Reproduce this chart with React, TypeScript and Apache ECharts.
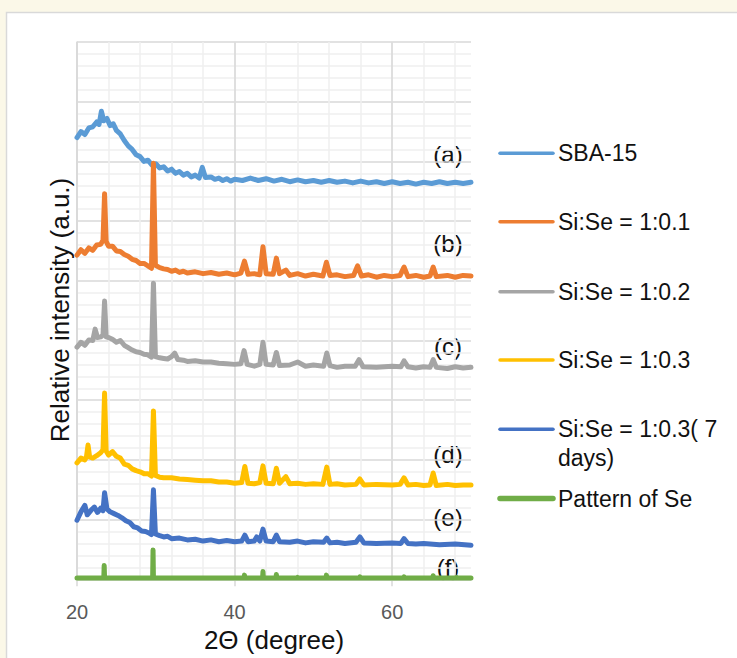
import React, { useEffect, useRef } from "react";
import * as echarts from "echarts";

// 2θ (degree) vs relative intensity (a.u.), stacked XRD patterns
const sba15: [number, number][] = [
  [20.0, 7.40], [20.5, 7.50], [21.0, 7.45], [21.5, 7.56], [22.0, 7.58], [22.5, 7.66], [22.8, 7.62],
  [23.1, 7.84], [23.4, 7.68], [23.8, 7.72], [24.2, 7.60], [24.6, 7.63], [25.0, 7.52], [25.5, 7.46],
  [26.0, 7.35], [26.5, 7.26], [27.0, 7.20], [27.5, 7.11], [28.0, 7.08], [28.5, 7.00], [29.0, 7.02],
  [29.5, 6.94], [30.0, 6.96], [30.5, 6.89], [31.0, 6.91], [31.5, 6.84], [32.0, 6.87], [32.5, 6.80],
  [33.0, 6.83], [33.5, 6.77], [34.0, 6.80], [34.5, 6.74], [35.0, 6.77], [35.5, 6.72], [35.9, 6.90],
  [36.3, 6.73], [37.0, 6.74], [37.5, 6.70], [38.0, 6.72], [38.5, 6.68], [39.0, 6.71], [39.5, 6.67],
  [40.0, 6.70], [41, 6.68], [42, 6.72], [43, 6.68], [44, 6.71], [45, 6.67], [46, 6.70], [47, 6.66],
  [48, 6.69], [49, 6.66], [50, 6.68], [51, 6.65], [52, 6.68], [53, 6.65], [54, 6.67], [55, 6.64],
  [56, 6.67], [57, 6.64], [58, 6.66], [59, 6.63], [60, 6.66], [61, 6.63], [62, 6.65], [63, 6.62],
  [64, 6.65], [65, 6.63], [66, 6.66], [67, 6.63], [68, 6.65], [69, 6.63], [70, 6.65],
];

const sise01: [number, number][] = [
  [20.0, 5.43], [20.5, 5.52], [21.0, 5.46], [21.5, 5.55], [22.0, 5.51], [22.5, 5.60], [23.0, 5.61],
  [23.3, 5.68], [23.5, 6.46], [23.7, 5.66], [24.0, 5.58], [24.5, 5.58], [25.0, 5.50], [25.5, 5.49],
  [26.0, 5.44], [26.5, 5.41], [27.0, 5.36], [27.5, 5.34], [28.0, 5.29], [28.5, 5.29], [29.0, 5.25],
  [29.45, 5.21], [29.7, 6.97], [29.95, 5.26], [30.5, 5.22], [31.0, 5.20], [31.5, 5.19], [32.0, 5.16],
  [32.5, 5.18], [33.0, 5.14], [33.5, 5.16], [34.0, 5.13], [35.0, 5.15], [36.0, 5.12], [37.0, 5.14],
  [38.0, 5.11], [39.0, 5.13], [40.0, 5.10], [40.8, 5.13], [41.25, 5.33], [41.7, 5.11], [42.5, 5.12],
  [43.2, 5.10], [43.6, 5.57], [44.0, 5.12], [44.9, 5.11], [45.3, 5.38], [45.7, 5.12], [46.5, 5.18],
  [47.0, 5.09], [48.0, 5.12], [49.0, 5.08], [50.0, 5.11], [51.2, 5.08], [51.65, 5.31], [52.1, 5.09],
  [53.0, 5.10], [54.0, 5.07], [55.1, 5.09], [55.6, 5.25], [56.1, 5.08], [57.0, 5.10], [58.0, 5.06],
  [59.0, 5.09], [60.0, 5.07], [61.0, 5.09], [61.5, 5.23], [62.0, 5.07], [63.0, 5.09], [64.0, 5.06],
  [64.8, 5.08], [65.2, 5.23], [65.6, 5.07], [67.0, 5.09], [68.0, 5.06], [69.0, 5.09], [70.0, 5.08],
];

const sise02: [number, number][] = [
  [20.0, 3.89], [20.5, 3.97], [21.0, 3.92], [21.5, 4.01], [22.0, 4.00], [22.3, 4.19], [22.6, 4.05],
  [23.0, 4.06], [23.3, 4.09], [23.5, 4.66], [23.7, 4.06], [24.0, 4.05], [24.5, 4.02], [25.0, 3.97],
  [25.5, 4.00], [26.0, 3.92], [26.5, 3.88], [27.0, 3.84], [27.5, 3.81], [28.0, 3.80], [28.5, 3.77],
  [29.0, 3.76], [29.45, 3.72], [29.7, 4.96], [29.95, 3.73], [30.5, 3.71], [31.0, 3.70], [31.5, 3.69],
  [32.0, 3.73], [32.4, 3.79], [32.8, 3.68], [33.5, 3.67], [34.0, 3.65], [35.0, 3.66], [36.0, 3.64],
  [37.0, 3.64], [38.0, 3.62], [39.0, 3.61], [40.0, 3.60], [40.8, 3.61], [41.2, 3.83], [41.6, 3.60],
  [42.5, 3.57], [43.2, 3.60], [43.6, 3.97], [44.0, 3.60], [44.9, 3.59], [45.3, 3.80], [45.7, 3.58],
  [47.0, 3.59], [48.0, 3.64], [49.0, 3.57], [50.0, 3.59], [51.3, 3.57], [51.7, 3.79], [52.1, 3.58],
  [53.0, 3.55], [54.0, 3.57], [55.3, 3.57], [55.8, 3.68], [56.3, 3.56], [58.0, 3.55], [60.0, 3.57],
  [61.1, 3.56], [61.5, 3.66], [62.0, 3.56], [63.0, 3.54], [64.0, 3.56], [64.8, 3.55], [65.2, 3.68],
  [65.6, 3.55], [67.0, 3.53], [68.0, 3.56], [69.0, 3.54], [70.0, 3.55],
];

const sise03: [number, number][] = [
  [20.0, 1.95], [20.5, 2.03], [21.0, 2.00], [21.2, 2.05], [21.4, 2.25], [21.6, 2.05], [22.0, 2.03],
  [22.5, 2.07], [23.0, 2.12], [23.3, 2.17], [23.5, 3.12], [23.7, 2.15], [24.0, 2.08], [24.5, 2.14],
  [25.0, 2.06], [25.5, 2.03], [26.0, 1.93], [26.5, 1.91], [27.0, 1.85], [27.5, 1.82], [28.0, 1.80],
  [28.5, 1.77], [29.0, 1.77], [29.45, 1.73], [29.7, 2.82], [29.95, 1.74], [30.5, 1.71], [31.0, 1.70],
  [32.0, 1.70], [33.0, 1.68], [34.0, 1.67], [35.0, 1.66], [36.0, 1.65], [37.0, 1.65], [38.0, 1.63],
  [39.0, 1.63], [40.0, 1.61], [40.9, 1.62], [41.3, 1.89], [41.7, 1.61], [42.5, 1.60], [43.2, 1.62],
  [43.6, 1.90], [44.0, 1.61], [44.9, 1.60], [45.3, 1.86], [45.7, 1.61], [46.5, 1.72], [47.0, 1.60],
  [48.0, 1.61], [49.0, 1.59], [50.0, 1.60], [51.2, 1.59], [51.7, 1.88], [52.1, 1.59], [53.0, 1.60],
  [54.0, 1.58], [55.4, 1.59], [55.9, 1.68], [56.4, 1.58], [58.0, 1.59], [60.0, 1.58], [61.0, 1.59],
  [61.5, 1.70], [62.0, 1.58], [63.0, 1.59], [64.0, 1.57], [64.8, 1.58], [65.2, 1.78], [65.6, 1.57],
  [67.0, 1.59], [68.0, 1.57], [69.0, 1.58], [70.0, 1.58],
];

const sise03d7: [number, number][] = [
  [20.0, 0.99], [20.5, 1.13], [21.0, 1.24], [21.3, 1.08], [21.8, 1.16], [22.2, 1.21], [22.6, 1.12],
  [23.0, 1.19], [23.3, 1.15], [23.5, 1.45], [23.8, 1.18], [24.2, 1.13], [24.7, 1.10], [25.2, 1.07],
  [25.7, 1.03], [26.2, 0.98], [26.7, 0.95], [27.2, 0.88], [27.7, 0.86], [28.2, 0.81], [28.7, 0.80],
  [29.2, 0.77], [29.45, 0.75], [29.7, 1.50], [29.95, 0.76], [30.5, 0.73], [31.0, 0.71], [31.5, 0.72],
  [32.0, 0.68], [33.0, 0.69], [34.0, 0.66], [35.0, 0.67], [36.0, 0.64], [37.0, 0.66], [38.0, 0.63],
  [39.0, 0.65], [40.0, 0.63], [40.9, 0.64], [41.3, 0.74], [41.7, 0.63], [42.5, 0.64], [42.8, 0.71],
  [43.2, 0.64], [43.6, 0.84], [44.0, 0.64], [44.9, 0.63], [45.3, 0.74], [45.7, 0.63], [47.0, 0.62],
  [48.0, 0.64], [49.0, 0.61], [50.0, 0.63], [51.3, 0.62], [51.7, 0.69], [52.1, 0.61], [53.0, 0.62],
  [54.0, 0.60], [55.4, 0.62], [55.9, 0.71], [56.4, 0.61], [58.0, 0.60], [60.0, 0.61], [61.1, 0.60],
  [61.5, 0.68], [62.0, 0.60], [63.0, 0.59], [64.0, 0.60], [66.0, 0.58], [68.0, 0.59], [70.0, 0.57],
];

const patternSe: [number, number][] = [
  [20.0, 0.02], [23.4, 0.02], [23.45, 0.23], [23.5, 0.02], [29.6, 0.02], [29.65, 0.49], [29.7, 0.02],
  [41.2, 0.02], [41.25, 0.07], [41.3, 0.02], [43.55, 0.02], [43.6, 0.13], [43.65, 0.02],
  [45.25, 0.02], [45.3, 0.08], [45.35, 0.02], [47.95, 0.02], [48.0, 0.03], [48.05, 0.02],
  [51.6, 0.02], [51.65, 0.07], [51.7, 0.02], [55.85, 0.02], [55.9, 0.04], [55.95, 0.02],
  [61.45, 0.02], [61.5, 0.04], [61.55, 0.02], [65.15, 0.02], [65.2, 0.06], [65.25, 0.02],
  [68.15, 0.02], [68.2, 0.03], [68.25, 0.02], [70.0, 0.02],
];

const seriesNames = ["SBA-15", "Si:Se = 1:0.1", "Si:Se = 1:0.2", "Si:Se = 1:0.3", "Si:Se = 1:0.3( 7\ndays)", "Pattern of Se"];
const seriesData = [sba15, sise01, sise02, sise03, sise03d7, patternSe];
const curveLabels = ["(a)", "(b)", "(c)", "(d)", "(e)", "(f)"];
const xTicks = [20, 40, 60];

const COLORS = ["#5b9bd5", "#ed7d31", "#a5a5a5", "#ffc000", "#4472c4", "#70ad47"];
const FONT = "'Liberation Sans', Arial, sans-serif";

export default function App() {
  const ref = useRef<HTMLDivElement>(null);
  useEffect(() => {
    document.body.style.margin = "0";
    if (!ref.current) return;
    const chart = echarts.init(ref.current, undefined, { renderer: "svg" });

    const labelY = [154, 243.5, 346.5, 454, 517.5, 567.5];
    const legendY = [153.3, 221.7, 291.7, 360, 429.3, 498.5];

    const graphic: any[] = [
      {
        type: "rect",
        shape: { x: 0, y: 0, width: 737, height: 12 },
        style: { fill: "#fbf8e8" },
        z: -20,
        silent: true,
      },
      {
        type: "rect",
        shape: { x: 0, y: 0, width: 6, height: 658 },
        style: { fill: "#fbf8e8" },
        z: -20,
        silent: true,
      },
      {
        type: "rect",
        shape: { x: 6.5, y: 12.5, width: 800, height: 700 },
        style: { fill: "none", stroke: "#d9d9d9", lineWidth: 1.5 },
        z: -10,
        silent: true,
      },
      {
        type: "text",
        x: 274,
        y: 640,
        style: { text: "2Θ (degree)", font: `26px ${FONT}`, fill: "#111", textAlign: "center", textVerticalAlign: "middle" },
      },
      {
        type: "text",
        x: 60,
        y: 310,
        rotation: Math.PI / 2,
        style: { text: "Relative intensity (a.u.)", font: `26px ${FONT}`, fill: "#111", textAlign: "center", textVerticalAlign: "middle" },
      },
    ];
    curveLabels.forEach((t, i) => {
      graphic.push({
        type: "text",
        x: 448,
        y: labelY[i],
        style: { text: t, font: `24px ${FONT}`, fill: "#111", textAlign: "center", textVerticalAlign: "middle" },
      });
    });
    seriesNames.forEach((n, i) => {
      graphic.push({
        type: "line",
        shape: { x1: 500, y1: legendY[i], x2: 553, y2: legendY[i] },
        style: { stroke: COLORS[i], lineWidth: i === 5 ? 5.5 : 3.5, lineCap: "round" },
      });
      const multi = n.includes("\n");
      graphic.push({
        type: "text",
        x: 558,
        y: multi ? legendY[i] - 14.5 : legendY[i],
        style: {
          text: n,
          font: `23px ${FONT}`,
          fill: "#111",
          textAlign: "left",
          textVerticalAlign: multi ? "top" : "middle",
          lineHeight: 29,
        },
      });
    });

    chart.setOption({
      animation: false,
      backgroundColor: "#fff",
      grid: { left: 77, right: 266, top: 42, bottom: 78.7, containLabel: false },
      xAxis: [
        {
          type: "value",
          min: 20,
          max: 70,
          interval: 4,
          position: "bottom",
          axisLine: { show: false },
          axisTick: { show: false },
          axisLabel: { show: false },
          splitLine: { show: true, showMaxLine: false, lineStyle: { color: "#efefef", width: 1.5 } },
        },
        {
          type: "value",
          min: 20,
          max: 70,
          interval: 20,
          position: "bottom",
          axisLine: { show: true, lineStyle: { color: "#d9d9d9", width: 1.5 } },
          axisTick: { show: true, length: 7, lineStyle: { color: "#d9d9d9", width: 1.5 } },
          axisLabel: {
            show: true,
            showMaxLabel: false,
            margin: 23,
            fontSize: 20,
            fontFamily: FONT,
            color: "#595959",
            formatter: (v: number) => (xTicks.includes(v) ? String(v) : ""),
          },
          splitLine: { show: true, showMaxLine: false, lineStyle: { color: "#d9d9d9", width: 1.5 } },
        },
      ],
      yAxis: {
        type: "value",
        min: 0,
        max: 9,
        interval: 1,
        axisLine: { show: true, lineStyle: { color: "#d9d9d9", width: 1.5 } },
        axisTick: { show: false },
        axisLabel: { show: false },
        minorTick: { show: false, splitNumber: 5 },
        splitLine: { show: true, lineStyle: { color: "#d9d9d9", width: 1.5 } },
        minorSplitLine: { show: true, lineStyle: { color: "#efefef", width: 1.5 } },
      },
      series: seriesData.map((d, i) => ({
        name: seriesNames[i],
        type: "line",
        xAxisIndex: 0,
        data: d,
        showSymbol: false,
        symbol: "none",
        clip: false,
        lineStyle: { color: COLORS[i], width: 5, cap: "round", join: "round" },
        itemStyle: { color: COLORS[i] },
        z: 2 + i,
      })),
      graphic,
    });

    return () => chart.dispose();
  }, []);

  return <div ref={ref} style={{ width: 737, height: 658 }} />;
}
